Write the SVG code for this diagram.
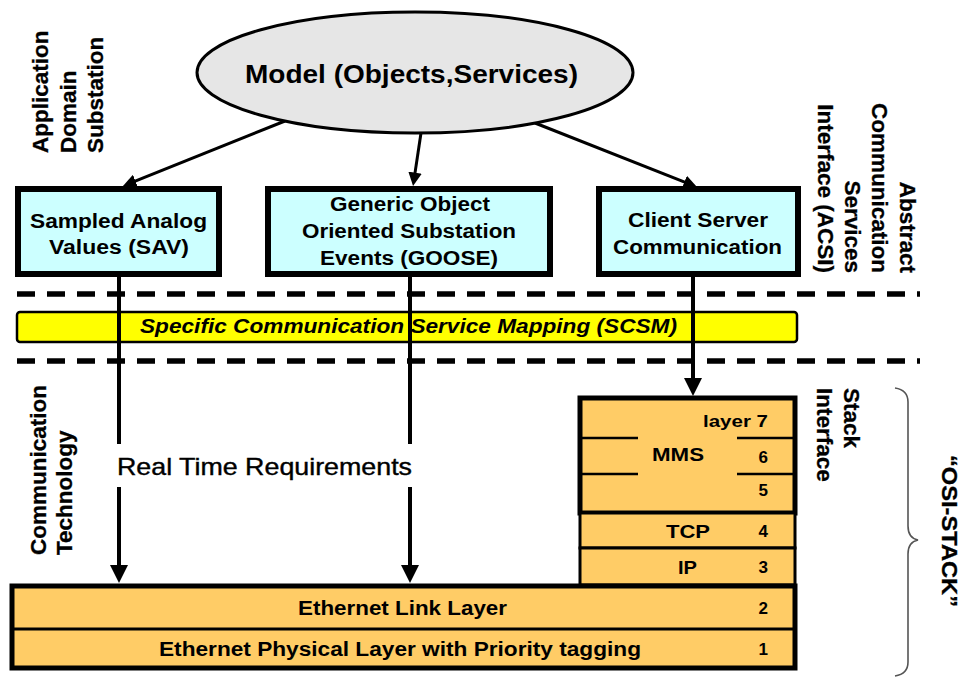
<svg xmlns="http://www.w3.org/2000/svg" width="964" height="680" viewBox="0 0 964 680">
  <defs>
    <style>
      text { font-family: "Liberation Sans", Arial, sans-serif; fill: #000; }
      .b { font-weight: bold; }
      .box { font-size: 20px; font-weight: bold; text-anchor: middle; }
      .side { font-size: 22.5px; font-weight: bold; stroke: #000; stroke-width: 0.3; }
      .num { font-size: 17px; font-weight: bold; text-anchor: end; }
      .svc { fill: #ccffff; stroke: #000; stroke-width: 6; }
      .layer { fill: #ffcc66; stroke: #000; }
      .dash { stroke: #000; stroke-width: 5.5; stroke-dasharray: 18 12; fill: none; }
      .flow { stroke: #000; fill: none; marker-end: url(#head); }
      .thin { stroke: #000; stroke-width: 2.5; }
    </style>
    <marker id="head" viewBox="0 0 18 18" markerWidth="4.5" markerHeight="4.5" refX="4" refY="9" orient="auto" markerUnits="strokeWidth">
      <path d="M0,0 L18,9 L0,18 z" fill="#000"/>
    </marker>
  </defs>

  <rect width="964" height="680" fill="#fff"/>

  <!-- layer boundaries -->
  <g id="boundaries">
    <line class="dash" x1="17" y1="294" x2="920" y2="294"/>
    <line class="dash" x1="17" y1="361" x2="920" y2="361"/>
  </g>

  <g id="scsm">
    <rect x="17" y="312" width="780" height="30" rx="3" fill="#ffff00" stroke="#000" stroke-width="2.5"/>
    <text class="b" x="408.5" y="333" font-size="20" font-style="italic" text-anchor="middle" textLength="537" lengthAdjust="spacingAndGlyphs">Specific Communication Service Mapping (SCSM)</text>
  </g>

  <!-- connectors -->
  <g id="connectors">
    <line class="flow" stroke-width="3" x1="285" y1="121" x2="132.7" y2="182.1"/>
    <line class="flow" stroke-width="3" x1="421" y1="133" x2="414.6" y2="175.6"/>
    <line class="flow" stroke-width="3" x1="535" y1="123" x2="687.2" y2="183.1"/>
    <line stroke="#000" stroke-width="4" x1="119" y1="276" x2="119" y2="444"/>
    <line class="flow" stroke-width="4" x1="119" y1="487" x2="119" y2="569"/>
    <line stroke="#000" stroke-width="4" x1="410" y1="276" x2="410" y2="444"/>
    <line class="flow" stroke-width="4" x1="410" y1="487" x2="410" y2="569"/>
    <line class="flow" stroke-width="4" x1="693" y1="276" x2="693" y2="382"/>
  </g>

  <g id="model">
    <ellipse cx="415" cy="72.5" rx="218" ry="60.5" fill="#e6e6e6" stroke="#000" stroke-width="3"/>
    <text class="b" x="411.5" y="83" font-size="25" text-anchor="middle" textLength="333" lengthAdjust="spacingAndGlyphs">Model (Objects,Services)</text>
  </g>

  <g id="sav">
    <rect class="svc" x="18" y="189" width="201" height="85"/>
    <text class="box" x="118.5" y="228" textLength="177" lengthAdjust="spacingAndGlyphs">Sampled Analog</text>
    <text class="box" x="119" y="254" textLength="140" lengthAdjust="spacingAndGlyphs">Values (SAV)</text>
  </g>

  <g id="goose">
    <rect class="svc" x="268" y="189" width="282" height="85"/>
    <text class="box" x="410" y="211" textLength="160" lengthAdjust="spacingAndGlyphs">Generic Object</text>
    <text class="box" x="409" y="238" textLength="214" lengthAdjust="spacingAndGlyphs">Oriented Substation</text>
    <text class="box" x="409" y="265" textLength="178" lengthAdjust="spacingAndGlyphs">Events (GOOSE)</text>
  </g>

  <g id="client-server">
    <rect class="svc" x="599" y="189" width="199" height="85"/>
    <text class="box" x="698" y="227" textLength="140" lengthAdjust="spacingAndGlyphs">Client Server</text>
    <text class="box" x="697.5" y="254" textLength="169" lengthAdjust="spacingAndGlyphs">Communication</text>
  </g>

  <g id="real-time">
    <text x="264.5" y="475" font-size="24" text-anchor="middle" stroke="#000" stroke-width="0.4" textLength="295" lengthAdjust="spacingAndGlyphs">Real Time Requirements</text>
  </g>

  <!-- OSI stack -->
  <g id="mms">
    <rect class="layer" stroke-width="5" x="580" y="398" width="215" height="115"/>
    <line class="thin" x1="582" y1="438" x2="638" y2="438"/>
    <line class="thin" x1="737" y1="438" x2="793" y2="438"/>
    <line class="thin" x1="582" y1="474" x2="638" y2="474"/>
    <line class="thin" x1="737" y1="474" x2="793" y2="474"/>
    <text class="b" x="768" y="427" font-size="17" text-anchor="end" textLength="65" lengthAdjust="spacingAndGlyphs">layer 7</text>
    <text class="b" x="678" y="461" font-size="18" text-anchor="middle" textLength="52" lengthAdjust="spacingAndGlyphs">MMS</text>
    <text class="num" x="768" y="463">6</text>
    <text class="num" x="768" y="496">5</text>
  </g>

  <g id="tcp">
    <rect class="layer" stroke-width="3" x="580" y="513" width="215" height="35"/>
    <text class="b" x="688" y="538" font-size="18" text-anchor="middle" textLength="44" lengthAdjust="spacingAndGlyphs">TCP</text>
    <text class="num" x="768" y="537">4</text>
  </g>

  <g id="ip">
    <rect class="layer" stroke-width="3" x="580" y="548" width="215" height="37"/>
    <text class="b" x="687.5" y="574" font-size="18" text-anchor="middle" textLength="19" lengthAdjust="spacingAndGlyphs">IP</text>
    <text class="num" x="768" y="573">3</text>
  </g>

  <g id="ethernet">
    <rect class="layer" stroke-width="5" x="12" y="586" width="783" height="82"/>
    <line stroke="#000" stroke-width="3" x1="12" y1="629" x2="795" y2="629"/>
    <text class="b" x="402.5" y="615" font-size="20" text-anchor="middle" textLength="209" lengthAdjust="spacingAndGlyphs">Ethernet Link Layer</text>
    <text class="num" x="768" y="614">2</text>
    <text class="b" x="400" y="656" font-size="20" text-anchor="middle" textLength="482" lengthAdjust="spacingAndGlyphs">Ethernet Physical Layer with Priority tagging</text>
    <text class="num" x="768" y="655">1</text>
  </g>

  <!-- side labels -->
  <g id="label-application">
    <text class="side" transform="translate(48,153) rotate(-90)">Application</text>
    <text class="side" transform="translate(76,153) rotate(-90)">Domain</text>
    <text class="side" transform="translate(103,153) rotate(-90)">Substation</text>
  </g>

  <g id="label-technology">
    <text class="side" transform="translate(46,555) rotate(-90)">Communication</text>
    <text class="side" transform="translate(72,555) rotate(-90)">Technology</text>
  </g>

  <g id="label-acsi">
    <text class="side" text-anchor="end" transform="translate(900,273) rotate(90)">Abstract</text>
    <text class="side" text-anchor="end" transform="translate(872,273) rotate(90)">Communication</text>
    <text class="side" text-anchor="end" transform="translate(845,273) rotate(90)">Services</text>
    <text class="side" text-anchor="end" transform="translate(818,273) rotate(90)">Interface (ACSI)</text>
  </g>

  <g id="label-stack-interface">
    <text class="side" transform="translate(844,388) rotate(90)">Stack</text>
    <text class="side" transform="translate(817,388) rotate(90)">Interface</text>
  </g>

  <g id="label-osi">
    <path d="M895,388 Q908,390 908,402 L908,526 Q908,538 918,540 Q908,542 908,554 L908,662 Q908,674 895,676" fill="none" stroke="#555" stroke-width="1.6"/>
    <text class="side" font-size="21" transform="translate(942,455) rotate(90)" textLength="152" lengthAdjust="spacingAndGlyphs">“OSI-STACK”</text>
  </g>
</svg>
